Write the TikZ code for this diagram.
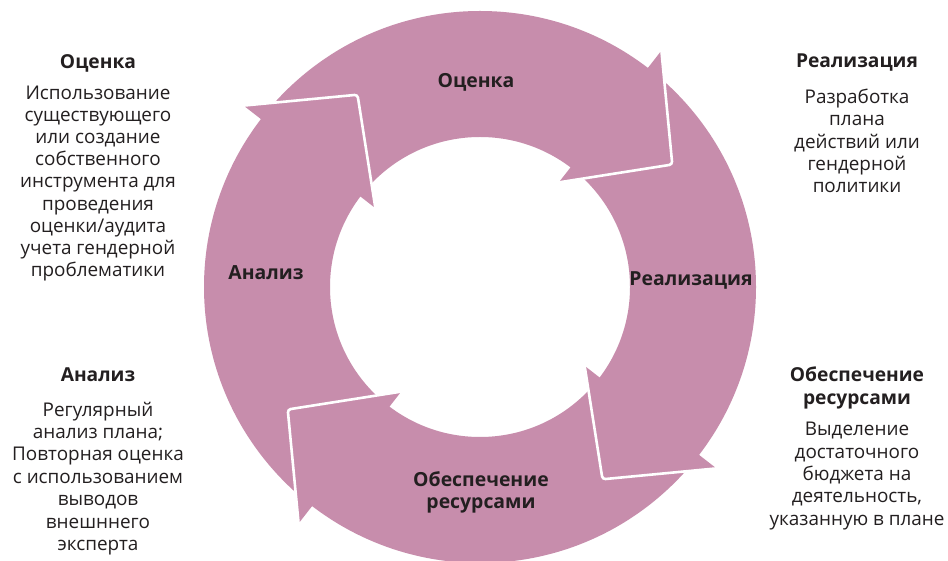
\documentclass[tikz,border=0pt]{standalone}
\usepackage{fontspec}
\setmainfont{Open Sans}
\definecolor{ringpink}{RGB}{199,141,172}
\definecolor{txt}{RGB}{35,31,32}
\tikzset{
  headtxt/.style={text=txt, font=\fontsize{19.2}{23}\selectfont\bfseries, align=center, inner sep=0pt},
  desctxt/.style={text=txt, font=\fontsize{18.9}{22.4}\selectfont, align=center, inner sep=0pt},
  desctight/.style={desctxt, font=\fontsize{18.9}{22.1}\selectfont},
  ringtxt/.style={text=txt, font=\fontsize{19.4}{21.5}\selectfont\bfseries, align=center, inner sep=0pt},
  headfill/.style={fill=ringpink, rounded corners=2pt},
  headedge/.style={draw=white, line width=2.6pt, rounded corners=3pt}
}
\begin{document}
\begin{tikzpicture}[x=1pt,y=1pt]
\useasboundingbox (0,0) rectangle (948,560);
\clip (0,0) rectangle (948,560);
\fill[white] (0,0) rectangle (948,560);
\begin{scope}[shift={(480,273)}]
  % ring
  \fill[ringpink, even odd rule] (0,0) circle (276) (0,0) circle (150);
  % arrow heads
  \foreach \k in {0,1,2,3} {
    \pgfmathsetmacro{\r}{-90*\k}
    \coordinate (O\k) at ({52.5+\r}:298);
    \coordinate (T\k) at ({32.5+\r}:228);
    \coordinate (I\k) at ({53+\r}:131);
    \fill[headfill] (O\k) -- (T\k) -- (I\k) -- cycle;
    \draw[headedge] (O\k) -- (T\k) -- (I\k);
  }
\end{scope}
% labels on the ring
\node[ringtxt] (rO) at (476,478) {Оценка};
\node[ringtxt] (rR) at (691,280) {Реализация};
\node[ringtxt] (rA) at (266,287) {Анализ};
\node[ringtxt] (rB) at (481,67.5) {Обеспечение\\ресурсами};
% side texts
\node[headtxt] (hO) at (98,497) {Оценка};
\node[desctight] (dO) at (98,376.5) {Использование\\существующего\\или создание\\собственного\\инструмента для\\проведения\\оценки/аудита\\учета гендерной\\проблематики};
\node[headtxt] (hR) at (857,497) {Реализация};
\node[desctxt] (dR) at (857,419) {Разработка\\плана\\действий или\\гендерной\\политики};
\node[headtxt] (hA) at (98,185) {Анализ};
\node[desctxt] (dA) at (98,81.5) {Регулярный\\анализ плана;\\Повторная оценка\\с использованием\\выводов\\внешннего\\эксперта};
\node[headtxt] (hB) at (857,172.5) {Обеспечение\\ресурсами};
\node[desctxt] (dB) at (857,84) {Выделение\\достаточного\\бюджета на\\деятельность,\\указанную в плане};
\end{tikzpicture}
\end{document}
